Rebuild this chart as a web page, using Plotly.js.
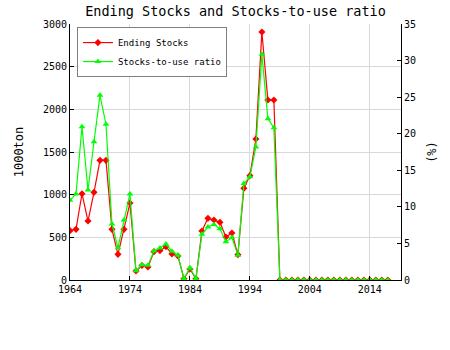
<!DOCTYPE html>
<html>
<head>
<meta charset="utf-8">
<script src="https://cdn.plot.ly/plotly-3.0.1.min.js"></script>
<style>html,body{margin:0;padding:0;background:#fff;}#chart{width:450px;height:350px;}</style>
</head>
<body>
<div id="chart"></div>
<script>
var years = [];
for (var y = 1964; y <= 2017; y++) years.push(y);
var endingStocks = [578, 594, 1011, 691, 1027, 1402, 1402, 594, 301, 594, 902,
  105, 170, 152, 332, 345, 390, 305, 281, 15, 129, 15,
  574, 723, 703, 676, 504, 551, 297, 1075, 1223, 1652, 2906, 2109, 2109,
  0, 0, 0, 0, 0, 0, 0, 0, 0, 0, 0, 0, 0, 0, 0, 0, 0, 0, 0];
var stocksToUse = [10.9, 11.76, 20.96, 12.3, 18.9, 25.25, 21.3, 7.66, 4.42, 8.2, 11.76,
  1.25, 2.1, 2.0, 3.96, 4.37, 4.92, 3.92, 3.38, 0.2, 1.68, 0.2,
  6.25, 7.25, 7.6, 7.0, 5.24, 5.8, 3.4, 13.2, 14.1, 18.2, 30.86, 22.06, 20.8,
  0, 0, 0, 0, 0, 0, 0, 0, 0, 0, 0, 0, 0, 0, 0, 0, 0, 0, 0];
var xTicks = [1964, 1974, 1984, 1994, 2004, 2014];

var F = '"DejaVu Sans Mono", monospace';
var traces = [
  {x: years, y: endingStocks, name: 'Ending Stocks', type: 'scatter', mode: 'lines+markers',
   line: {color: '#ff0000', width: 1.2}, marker: {symbol: 'diamond', size: 5.5, color: '#ff0000'}},
  {x: years, y: stocksToUse, name: 'Stocks-to-use ratio', type: 'scatter', mode: 'lines+markers', yaxis: 'y2',
   line: {color: '#00ff00', width: 1.2}, marker: {symbol: 'triangle-up', size: 6, color: '#00ff00'}}
];
var layout = {
  width: 450, height: 350,
  margin: {l: 70, r: 49, t: 24, b: 70},
  paper_bgcolor: '#fff', plot_bgcolor: '#fff',
  font: {family: F, size: 10, color: '#000'},
  title: {text: 'Ending Stocks and Stocks-to-use ratio', font: {family: F, size: 13.5, color: '#000'},
          x: 0.5, xref: 'paper', y: 0.98, yref: 'container', yanchor: 'top'},
  showlegend: true,
  legend: {x: 0.021, y: 0.988, xanchor: 'left', yanchor: 'top', bgcolor: '#fff',
           bordercolor: '#808080', borderwidth: 1, font: {family: F, size: 9},
           tracegroupgap: 0, itemwidth: 30},
  xaxis: {range: [1964, 2019.2], tickvals: xTicks, ticktext: xTicks.map(String),
          ticks: 'inside', ticklen: 4, tickcolor: '#000', showline: true, linecolor: '#000', linewidth: 1,
          showgrid: true, gridcolor: '#d9d9d9', zeroline: false, tickfont: {family: F, size: 10}},
  yaxis: {range: [0, 3000], dtick: 500, ticks: 'inside', ticklen: 4, tickcolor: '#000',
          showline: true, linecolor: '#000', linewidth: 1, showgrid: true, gridcolor: '#d9d9d9',
          zeroline: false, tickfont: {family: F, size: 10},
          title: {text: '1000ton', font: {family: F, size: 12}, standoff: 16}},
  yaxis2: {range: [0, 35], dtick: 5, overlaying: 'y', side: 'right', ticks: 'inside', ticklen: 4,
           tickcolor: '#000', showline: true, linecolor: '#000', linewidth: 1, showgrid: false,
           zeroline: false, tickfont: {family: F, size: 10},
           title: {text: '(%)', font: {family: F, size: 12}, standoff: 12}}
};
Plotly.newPlot('chart', traces, layout, {displayModeBar: false, staticPlot: true});
</script>
</body>
</html>
